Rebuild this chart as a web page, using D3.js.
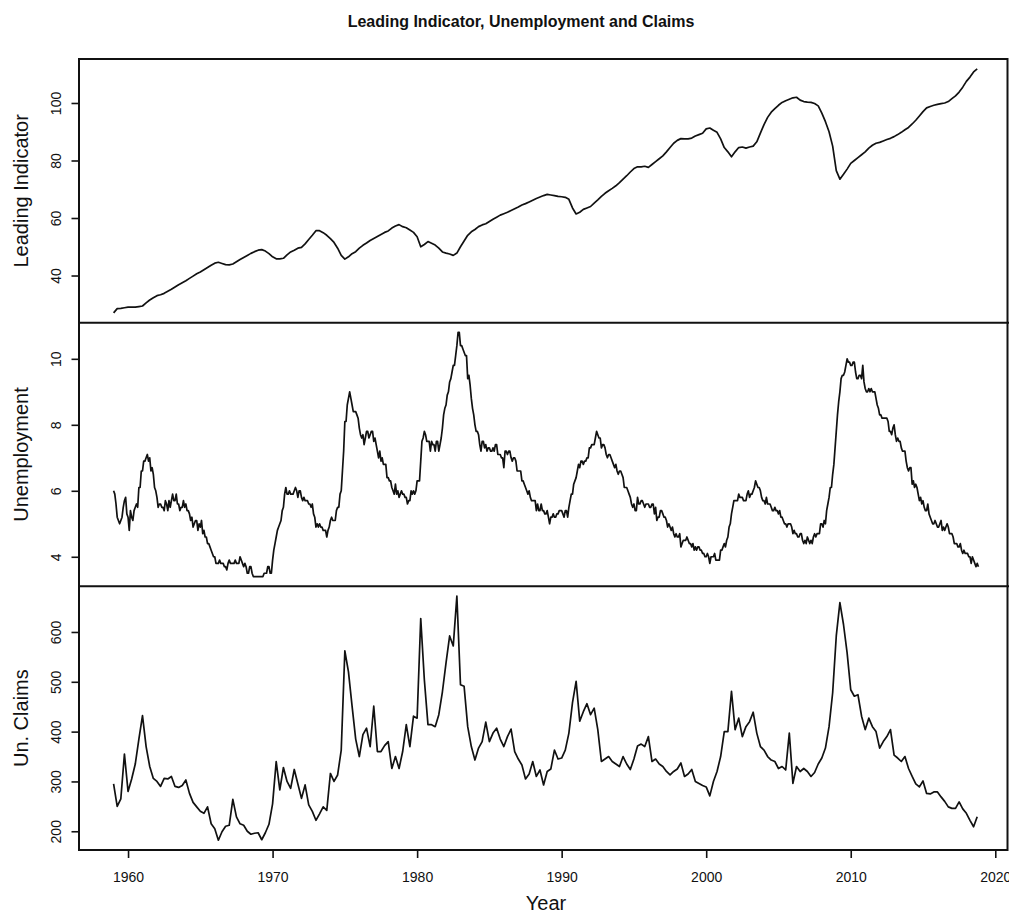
<!DOCTYPE html>
<html>
<head>
<meta charset="utf-8">
<script src="https://cdn.jsdelivr.net/npm/d3@7"></script>
<style>
  body { margin: 0; background: #fff; }
  svg { font-family: "Liberation Sans", Arial, Helvetica, sans-serif; }
</style>
</head>
<body>
<div class="canvas"></div>
<script>
// series start Jan 1959; LEI and claims read quarterly, unemployment monthly
const startYear = 1959;
const endYear = 2018 + 10 / 12;

const leadingIndicator = [
  27.0, 28.5, 28.6, 28.8,   29.0, 29.0, 29.0, 29.2,   29.4, 30.5, 31.5, 32.3,
  33.0, 33.3, 33.8, 34.5,   35.2, 36.0, 36.8, 37.5,   38.2, 39.0, 39.8, 40.6,
  41.2, 42.0, 42.8, 43.6,   44.3, 44.6, 44.2, 43.8,   43.7, 44.0, 44.8, 45.6,
  46.3, 47.0, 47.7, 48.3,   48.8, 49.0, 48.5, 47.6,   46.5, 45.8, 45.8, 46.0,
  47.2, 48.2, 48.8, 49.5,   49.8, 51.0, 52.5, 54.0,   55.6, 55.6, 54.9, 54.0,
  52.8, 51.5, 49.5, 47.0,   45.7, 46.5, 47.6, 48.3,   49.5, 50.5, 51.3, 52.2,
  52.9, 53.6, 54.3, 55.0,   55.5, 56.5, 57.2, 57.7,   57.0, 56.6, 55.8, 55.0,
  53.5, 50.0, 50.8, 51.8,   51.2, 50.6, 49.5, 48.2,   47.8, 47.5, 47.0, 47.8,
  50.0, 52.0, 54.0, 55.2,   56.0, 57.0, 57.6, 58.0,   58.8, 59.6, 60.3, 61.0,
  61.5, 62.0, 62.6, 63.2,   63.8, 64.5, 65.0, 65.6,   66.2, 66.8, 67.3, 67.8,
  68.2, 68.0, 67.8, 67.5,   67.4, 67.2, 66.5, 63.5,   61.4, 62.0, 63.0, 63.5,
  64.0, 65.2, 66.3, 67.5,   68.6, 69.5, 70.3, 71.2,   72.3, 73.5, 74.7, 76.0,
  77.2, 77.8, 77.8, 78.0,   77.6, 78.6, 79.6, 80.6,   81.6, 83.0, 84.5, 86.0,
  87.0, 87.6, 87.5, 87.5,   87.8, 88.5, 89.0, 89.5,   91.0, 91.3, 90.5, 89.8,
  87.5, 84.5, 83.0, 81.3,   83.0, 84.5, 84.7, 84.3,   84.7, 85.0, 86.5, 89.5,
  92.5, 95.0, 96.8, 98.0,   99.2, 100.2, 100.8, 101.3, 101.8, 102.0, 101.0, 100.5,
  100.3, 100.2, 99.8, 99.0, 96.5, 93.5, 90.0, 85.0,   76.5, 73.5, 75.2, 77.0,
  79.0, 80.0, 81.0, 82.0,   83.0, 84.3, 85.3, 86.0,   86.3, 86.8, 87.3, 87.7,
  88.3, 89.0, 89.8, 90.7,   91.5, 92.7, 94.0, 95.5,   97.0, 98.3, 98.8, 99.2,
  99.5, 99.8, 100.0, 100.5, 101.5, 102.5, 103.8, 105.5, 107.5, 109.0, 110.8, 111.9
];

const unemployment = [
  6.0, 5.9, 5.6, 5.2, 5.1, 5.0, 5.1, 5.2, 5.5, 5.7, 5.8, 5.3,  // 1959
  5.2, 4.8, 5.4, 5.2, 5.1, 5.4, 5.5, 5.6, 5.5, 6.1, 6.1, 6.6,
  6.6, 6.9, 6.9, 7.0, 7.1, 6.9, 7.0, 6.6, 6.7, 6.5, 6.1, 6.0,
  5.8, 5.5, 5.6, 5.6, 5.5, 5.5, 5.4, 5.7, 5.6, 5.4, 5.7, 5.5,
  5.7, 5.9, 5.7, 5.7, 5.9, 5.6, 5.6, 5.4, 5.5, 5.5, 5.7, 5.5,
  5.6, 5.4, 5.4, 5.3, 5.1, 5.2, 4.9, 5.0, 5.1, 5.1, 4.8, 5.0,
  4.9, 5.1, 4.7, 4.8, 4.6, 4.6, 4.4, 4.4, 4.3, 4.2, 4.1, 4.0,
  4.0, 3.8, 3.8, 3.8, 3.9, 3.8, 3.8, 3.8, 3.7, 3.7, 3.6, 3.8,
  3.9, 3.8, 3.8, 3.8, 3.8, 3.9, 3.8, 3.8, 3.8, 4.0, 3.9, 3.8,
  3.7, 3.8, 3.7, 3.5, 3.5, 3.7, 3.7, 3.5, 3.4, 3.4, 3.4, 3.4,
  3.4, 3.4, 3.4, 3.4, 3.4, 3.5, 3.5, 3.5, 3.7, 3.7, 3.5, 3.5,  // 1969
  3.9, 4.2, 4.4, 4.6, 4.8, 4.9, 5.0, 5.1, 5.4, 5.5, 5.9, 6.1,
  5.9, 5.9, 6.0, 5.9, 5.9, 5.9, 6.0, 6.1, 6.0, 5.8, 6.0, 6.0,
  5.8, 5.7, 5.8, 5.7, 5.7, 5.7, 5.6, 5.6, 5.5, 5.6, 5.3, 5.2,
  4.9, 5.0, 4.9, 5.0, 4.9, 4.9, 4.8, 4.8, 4.8, 4.6, 4.8, 4.9,
  5.1, 5.2, 5.1, 5.1, 5.1, 5.4, 5.5, 5.5, 5.9, 6.0, 6.6, 7.2,
  8.1, 8.1, 8.6, 8.8, 9.0, 8.8, 8.6, 8.4, 8.4, 8.4, 8.3, 8.2,
  7.9, 7.7, 7.6, 7.7, 7.4, 7.6, 7.8, 7.8, 7.6, 7.7, 7.8, 7.8,
  7.5, 7.6, 7.4, 7.2, 7.0, 7.2, 6.9, 7.0, 6.8, 6.8, 6.8, 6.4,
  6.4, 6.3, 6.3, 6.1, 6.0, 5.9, 6.2, 5.9, 6.0, 5.8, 5.9, 6.0,
  5.9, 5.9, 5.8, 5.8, 5.6, 5.7, 5.7, 6.0, 5.9, 6.0, 5.9, 6.0,  // 1979
  6.3, 6.3, 6.3, 6.9, 7.5, 7.6, 7.8, 7.7, 7.5, 7.5, 7.5, 7.2,
  7.5, 7.4, 7.4, 7.2, 7.5, 7.5, 7.2, 7.4, 7.6, 7.9, 8.3, 8.5,
  8.6, 8.9, 9.0, 9.3, 9.4, 9.6, 9.8, 9.8, 10.1, 10.4, 10.8, 10.8,
  10.4, 10.4, 10.3, 10.2, 10.1, 10.1, 9.4, 9.5, 9.2, 8.8, 8.5, 8.3,
  8.0, 7.8, 7.8, 7.7, 7.4, 7.2, 7.5, 7.5, 7.3, 7.4, 7.2, 7.3,
  7.3, 7.2, 7.2, 7.3, 7.2, 7.4, 7.4, 7.1, 7.1, 7.1, 7.0, 7.0,
  6.7, 7.2, 7.2, 7.1, 7.2, 7.2, 7.0, 6.9, 7.0, 7.0, 6.9, 6.6,
  6.6, 6.6, 6.6, 6.3, 6.3, 6.2, 6.1, 6.0, 5.9, 6.0, 5.8, 5.7,
  5.7, 5.7, 5.7, 5.4, 5.6, 5.4, 5.4, 5.6, 5.4, 5.4, 5.3, 5.3,
  5.4, 5.2, 5.0, 5.2, 5.2, 5.3, 5.2, 5.2, 5.3, 5.3, 5.4, 5.4,  // 1989
  5.4, 5.3, 5.2, 5.4, 5.4, 5.2, 5.5, 5.7, 5.9, 5.9, 6.2, 6.3,
  6.4, 6.6, 6.8, 6.7, 6.9, 6.9, 6.8, 6.9, 6.9, 7.0, 7.0, 7.3,
  7.3, 7.4, 7.4, 7.4, 7.6, 7.8, 7.7, 7.6, 7.6, 7.3, 7.4, 7.4,
  7.3, 7.1, 7.0, 7.1, 7.1, 7.0, 6.9, 6.8, 6.7, 6.8, 6.6, 6.5,
  6.6, 6.6, 6.5, 6.4, 6.1, 6.1, 6.1, 6.0, 5.9, 5.8, 5.6, 5.5,
  5.6, 5.4, 5.4, 5.8, 5.6, 5.6, 5.7, 5.7, 5.6, 5.5, 5.6, 5.6,
  5.6, 5.5, 5.5, 5.6, 5.6, 5.3, 5.5, 5.1, 5.2, 5.2, 5.4, 5.4,
  5.3, 5.2, 5.2, 5.1, 4.9, 5.0, 4.9, 4.8, 4.9, 4.7, 4.6, 4.7,
  4.6, 4.6, 4.7, 4.3, 4.4, 4.5, 4.5, 4.5, 4.6, 4.5, 4.4, 4.4,
  4.3, 4.4, 4.2, 4.3, 4.2, 4.3, 4.3, 4.2, 4.2, 4.1, 4.1, 4.0,  // 1999
  4.0, 4.1, 4.0, 3.8, 4.0, 4.0, 4.0, 4.1, 3.9, 3.9, 3.9, 3.9,
  4.2, 4.2, 4.3, 4.4, 4.3, 4.5, 4.6, 4.9, 5.0, 5.3, 5.5, 5.7,
  5.7, 5.7, 5.7, 5.9, 5.8, 5.8, 5.8, 5.7, 5.7, 5.7, 5.9, 6.0,
  5.8, 5.9, 5.9, 6.0, 6.1, 6.3, 6.2, 6.1, 6.1, 6.0, 5.8, 5.7,
  5.7, 5.6, 5.8, 5.6, 5.6, 5.6, 5.5, 5.4, 5.4, 5.5, 5.4, 5.4,
  5.3, 5.4, 5.2, 5.2, 5.1, 5.0, 5.0, 4.9, 5.0, 5.0, 5.0, 4.9,
  4.7, 4.8, 4.7, 4.7, 4.6, 4.6, 4.7, 4.7, 4.5, 4.4, 4.5, 4.4,
  4.6, 4.5, 4.4, 4.5, 4.4, 4.6, 4.7, 4.6, 4.7, 4.7, 4.7, 5.0,
  5.0, 4.9, 5.1, 5.0, 5.4, 5.6, 5.8, 6.1, 6.1, 6.5, 6.8, 7.3,
  7.8, 8.3, 8.7, 9.0, 9.4, 9.5, 9.5, 9.6, 9.8, 10.0, 9.9, 9.9,  // 2009
  9.8, 9.8, 9.9, 9.9, 9.6, 9.4, 9.4, 9.5, 9.5, 9.4, 9.8, 9.3,
  9.1, 9.0, 9.0, 9.1, 9.0, 9.1, 9.0, 9.0, 9.0, 8.8, 8.6, 8.5,
  8.3, 8.3, 8.2, 8.2, 8.2, 8.2, 8.2, 8.1, 7.8, 7.8, 7.7, 7.9,
  8.0, 7.7, 7.5, 7.6, 7.5, 7.5, 7.3, 7.2, 7.2, 7.2, 6.9, 6.7,
  6.6, 6.7, 6.7, 6.2, 6.3, 6.1, 6.2, 6.1, 5.9, 5.7, 5.8, 5.6,
  5.7, 5.5, 5.4, 5.4, 5.6, 5.3, 5.2, 5.1, 5.0, 5.0, 5.1, 5.0,
  4.9, 4.9, 5.0, 5.1, 4.8, 4.9, 4.8, 4.9, 5.0, 4.9, 4.7, 4.7,
  4.7, 4.6, 4.4, 4.4, 4.4, 4.3, 4.3, 4.4, 4.2, 4.1, 4.2, 4.1,
  4.1, 4.1, 4.0, 4.0, 3.8, 4.0, 3.9, 3.8, 3.7, 3.8, 3.7         // 2018
];

const claims = [
  295, 250, 265, 355,   280, 305, 335, 385,   432, 370, 330, 306,
  300, 290, 306, 305,   310, 290, 288, 292,   303, 276, 258, 249,
  240, 236, 249, 215,   205, 182, 199, 210,   212, 264, 229, 215,
  212, 200, 194, 196,   197, 183, 197, 214,   255, 340, 283, 328,
  300, 286, 324, 295,   266, 293, 253, 240,   222, 235, 249, 242,
  316, 300, 313, 363,   562, 520, 451, 385,   350, 394, 407, 370,
  451, 360, 360, 372,   380, 326, 350, 326,   360, 414, 370, 431,
  427, 627, 504, 414,   414, 410, 434, 480,   538, 592, 572, 672,
  494, 491, 410, 370,   343, 367, 380, 419,   380, 397, 407, 385,
  370, 390, 405, 360,   345, 333, 305, 315,   340, 310, 323, 293,
  320, 325, 363, 345,   347, 363, 397, 458,   501, 421, 440, 456,
  434, 447, 404, 340,   345, 350, 340, 335,   330, 350, 335, 324,
  345, 371, 375, 370,   390, 340, 345, 335,   330, 320, 313, 320,
  325, 337, 310, 315,   324, 300, 296, 292,   289, 271, 300, 320,
  350, 400, 400, 481,   404, 427, 390, 410,   420, 439, 397, 370,
  363, 350, 343, 340,   326, 330, 323, 397,   296, 330, 320, 326,
  320, 310, 318, 335,   347, 367, 410, 478,   592, 659, 615, 558,
  484, 471, 474, 431,   404, 427, 410, 400,   367, 380, 390, 404,
  353, 347, 340, 350,   326, 310, 295, 289,   301, 276, 275, 279,
  279, 269, 260, 249,   246, 246, 259, 245,   236, 222, 209, 229
];

const panels = [
  { label: 'Leading Indicator', values: leadingIndicator, freq: 4, ticks: [40, 60, 80, 100] },
  { label: 'Unemployment', values: unemployment, freq: 12, ticks: [4, 6, 8, 10] },
  { label: 'Un. Claims', values: claims, freq: 4, ticks: [200, 300, 400, 500, 600] }
];
const yearTicks = [1960, 1970, 1980, 1990, 2000, 2010, 2020];

const width = 1009, height = 915;
const plotLeft = 79, plotTop = 59, plotBottom = 850, plotRight = 1013;
const panelH = (plotBottom - plotTop) / panels.length;

const svg = d3.select('.canvas')
  .append('svg')
  .attr('width', width)
  .attr('height', height);

// R style 4% padding on every range
const pad = ([a, b]) => [a - (b - a) * 0.04, b + (b - a) * 0.04];

const x = d3.scaleLinear()
  .domain(pad([startYear, endYear]))
  .range([plotLeft, plotRight]);

const line = d3.line()
  .x(d => x(d.t))
  .y(d => d.y);

panels.forEach((p, i) => {
  const y0 = plotTop + i * panelH;
  const y = d3.scaleLinear()
    .domain(pad(d3.extent(p.values)))
    .range([y0 + panelH, y0]);

  const pts = p.values.map((v, k) => ({ t: startYear + k / p.freq, y: y(v) }));

  svg.append('path')
    .datum(pts)
    .attr('fill', 'none')
    .attr('stroke', '#111')
    .attr('stroke-width', 1.7)
    .attr('stroke-linejoin', 'round')
    .attr('d', line);

  const ax = svg.append('g')
    .attr('transform', `translate(${plotLeft},0)`)
    .call(d3.axisLeft(y).tickValues(p.ticks).tickSize(7.5).tickFormat(d3.format('d')));
  ax.select('.domain').remove();
  ax.selectAll('line').attr('stroke', '#111').attr('stroke-width', 1.6);
  ax.selectAll('text')
    .attr('x', null).attr('dy', null)
    .attr('fill', '#111')
    .attr('font-size', 14)
    .attr('text-anchor', 'middle')
    .attr('transform', 'translate(-18,0) rotate(-90)');

  svg.append('text')
    .attr('transform', `translate(28,${y0 + panelH / 2}) rotate(-90)`)
    .attr('text-anchor', 'middle')
    .attr('font-size', 20)
    .attr('fill', '#111')
    .text(p.label);

  if (i > 0) {
    svg.append('line')
      .attr('x1', plotLeft).attr('x2', width)
      .attr('y1', y0).attr('y2', y0)
      .attr('stroke', '#111')
      .attr('stroke-width', 2);
  }
});

// outer frame, right side clipped by the window like the reference
svg.append('rect')
  .attr('x', plotLeft)
  .attr('y', plotTop)
  .attr('width', Math.min(plotRight, width - 1.5) - plotLeft)
  .attr('height', plotBottom - plotTop)
  .attr('fill', 'none')
  .attr('stroke', '#111')
  .attr('stroke-width', 2);

const xa = svg.append('g')
  .attr('transform', `translate(0,${plotBottom})`)
  .call(d3.axisBottom(x).tickValues(yearTicks).tickSize(8).tickFormat(d3.format('d')));
xa.select('.domain').remove();
xa.selectAll('line').attr('stroke', '#111').attr('stroke-width', 1.6);
xa.selectAll('text')
  .attr('y', 32).attr('dy', null)
  .attr('fill', '#111')
  .attr('font-size', 14);

svg.append('text')
  .attr('x', (plotLeft + plotRight) / 2)
  .attr('y', 910)
  .attr('text-anchor', 'middle')
  .attr('font-size', 20)
  .attr('fill', '#111')
  .text('Year');

svg.append('text')
  .attr('x', 521)
  .attr('y', 27)
  .attr('text-anchor', 'middle')
  .attr('font-size', 16)
  .attr('font-weight', 'bold')
  .attr('fill', '#111')
  .text('Leading Indicator, Unemployment and Claims');
</script>
</body>
</html>
